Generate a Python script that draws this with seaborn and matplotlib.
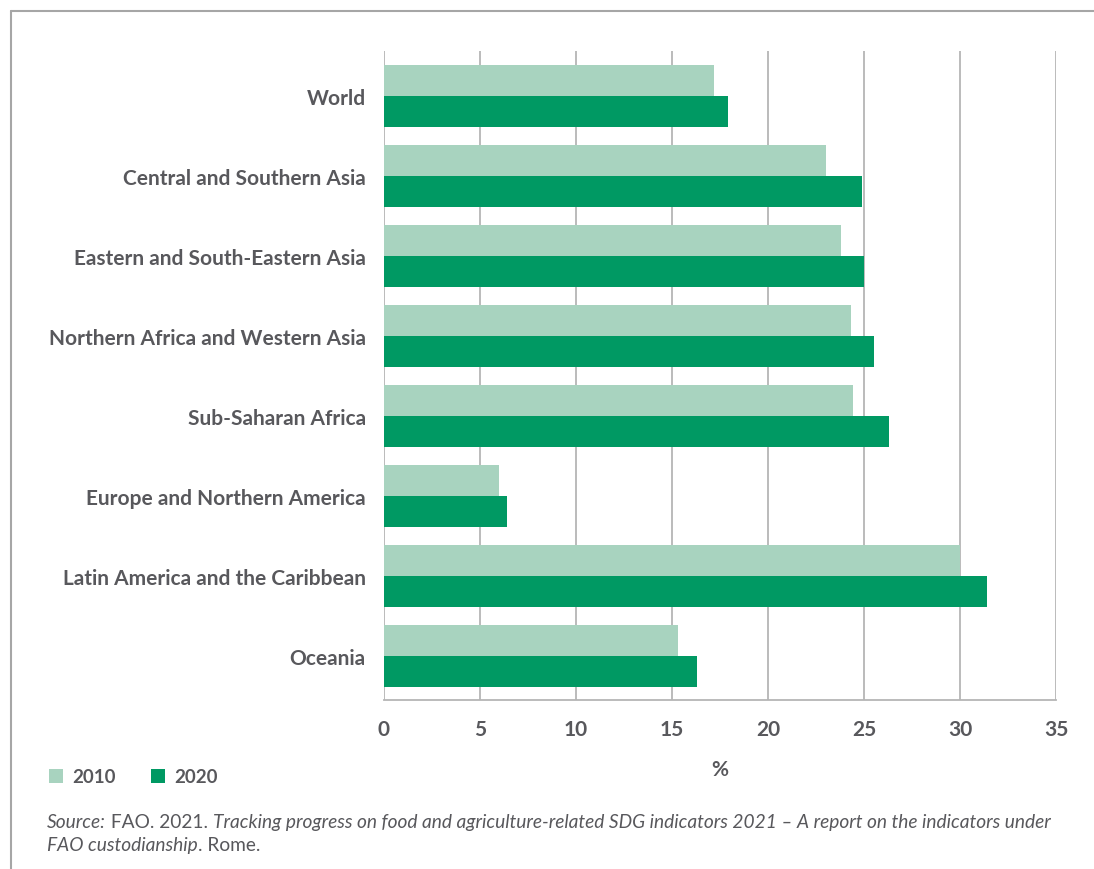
import matplotlib
matplotlib.use("Agg")
import matplotlib.pyplot as plt
import seaborn as sns
import pandas as pd
from matplotlib.lines import Line2D

regions = ["World", "Central and Southern Asia", "Eastern and South-Eastern Asia",
           "Northern Africa and Western Asia", "Sub-Saharan Africa",
           "Europe and Northern America", "Latin America and the Caribbean", "Oceania"]
values_2010 = [17.2, 23.0, 23.8, 24.3, 24.4, 6.0, 30.0, 15.3]
values_2020 = [17.9, 24.9, 25.0, 25.5, 26.3, 6.4, 31.4, 16.3]
years = ["2010", "2020"]
x_ticks = [0, 5, 10, 15, 20, 25, 30, 35]

LIGHT = "#A8D3BF"
DARK = "#009963"
TXT = "#58585C"
GRID = "#B5B5B5"
FONT = "Lato"
LAB = 15.0

df = pd.DataFrame({
    "region": regions * 2,
    "value": values_2010 + values_2020,
    "year": [years[0]] * len(regions) + [years[1]] * len(regions),
})

sns.set_theme(style="white")
plt.rcParams["font.family"] = [FONT, "DejaVu Sans"]

fig = plt.figure(figsize=(10.94, 8.70), dpi=100)
ax = fig.add_axes([383.7 / 1094, 1 - 701 / 870, (1056.3 - 383.7) / 1094, (701 - 52) / 870])

sns.barplot(data=df, y="region", x="value", hue="year", order=regions, hue_order=years,
            orient="h", palette=[LIGHT, DARK], width=0.775, saturation=1, ax=ax,
            errorbar=None, linewidth=0)

ax.set_xlim(0, 35)
ax.set_ylim(7.55, -0.5625)
ax.set_xticks(x_ticks)
ax.set_xticklabels([str(t) for t in x_ticks], fontsize=LAB, fontweight="bold", color=TXT)
ax.tick_params(axis="x", length=0, pad=14)
ax.tick_params(axis="y", length=0, pad=13)
for lab in ax.get_yticklabels():
    lab.set_fontsize(LAB)
    lab.set_fontweight("bold")
    lab.set_color(TXT)

ax.xaxis.grid(True, color=GRID, linewidth=1.3)
ax.yaxis.grid(False)
ax.set_axisbelow(True)
for s in ["top", "left", "right"]:
    ax.spines[s].set_visible(False)
ax.spines["bottom"].set_color(GRID)
ax.spines["bottom"].set_linewidth(1.3)
ax.set_ylabel("")
ax.set_xlabel("%", fontsize=LAB, fontweight="bold", color=TXT, labelpad=14)

handles, labels = ax.get_legend_handles_labels()
if ax.legend_:
    ax.legend_.remove()
leg = fig.legend(handles, labels, loc="center left", bbox_to_anchor=(49 / 1094, 1 - 778 / 870),
                 ncol=2, frameon=False, borderpad=0, borderaxespad=0,
                 handlelength=0.72, handleheight=0.72, handletextpad=0.5, columnspacing=1.9,
                 prop={"family": FONT, "weight": "bold", "size": 13.5})
for t in leg.get_texts():
    t.set_color(TXT)

# frame lines
fig.add_artist(Line2D([11 / 1094, 1], [1 - 12 / 870, 1 - 12 / 870], transform=fig.transFigure,
                      color="#A6A6A6", linewidth=1.5))
fig.add_artist(Line2D([11 / 1094, 11 / 1094], [0, 1 - 12 / 870], transform=fig.transFigure,
                      color="#A6A6A6", linewidth=1.5))

# source note
SZ = 13.8
def chain(parts, x, y):
    prev = None
    for txt, style in parts:
        if prev is None:
            prev = fig.text(x, y, txt, fontsize=SZ, style=style, color=TXT, ha="left", va="baseline")
        else:
            prev = ax.annotate(txt, xy=(1, 0), xycoords=prev, fontsize=SZ, style=style,
                               color=TXT, ha="left", va="bottom", annotation_clip=False)

chain([("Source:", "italic"), (" FAO. 2021. ", "normal"),
       ("Tracking progress on food and agriculture-related SDG indicators 2021 \u2013 A report on the indicators under", "italic")],
      47 / 1094, 1 - 828 / 870)
chain([("FAO custodianship", "italic"), (". Rome.", "normal")], 47 / 1094, 1 - 851 / 870)

fig.savefig("out.png", dpi=100, facecolor="white")
